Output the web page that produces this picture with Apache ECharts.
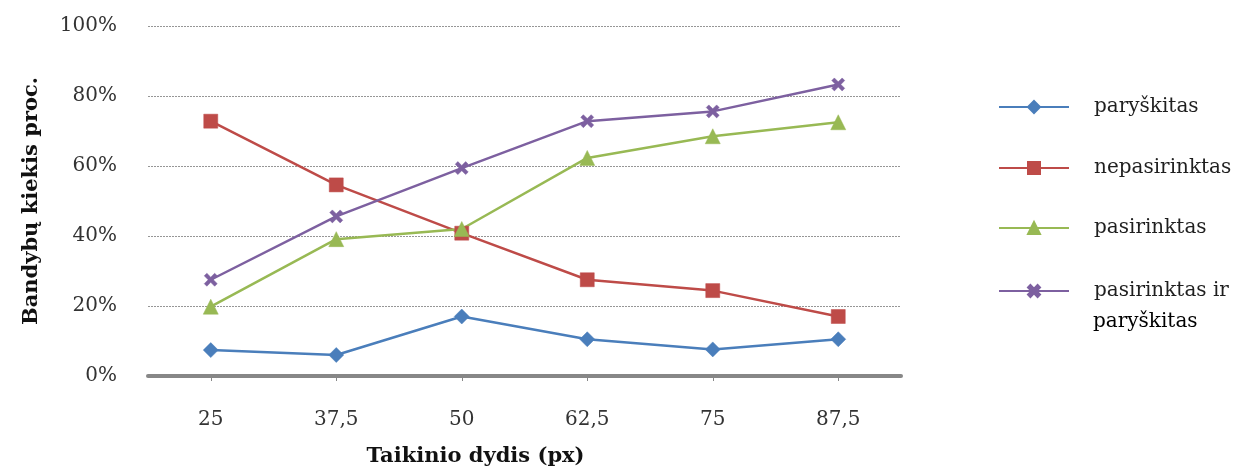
<!DOCTYPE html>
<html>
<head>
<meta charset="utf-8">
<script src="https://cdn.jsdelivr.net/npm/echarts@6/dist/echarts.min.js"></script>
<style>
  html, body { margin: 0; padding: 0; background: #fff; }
  #chart { width: 1252px; height: 472px; }
</style>
</head>
<body>
<div id="chart"></div>
<script>
// Target size categories (px) and share of attempts (%) per outcome
const categories = ['25', '37,5', '50', '62,5', '75', '87,5'];
const yTicks = [0, 20, 40, 60, 80, 100];

const paryskitas = [7.4, 6.0, 17.0, 10.5, 7.6, 10.5];
const nepasirinktas = [72.8, 54.6, 40.8, 27.5, 24.4, 17.0];
const pasirinktas = [19.8, 39.1, 42.0, 62.3, 68.5, 72.5];
const pasirinktasIrParyskitas = [27.5, 45.6, 59.4, 72.8, 75.6, 83.3];

const seriesNames = ['paryškitas', 'nepasirinktas', 'pasirinktas', 'pasirinktas ir paryškitas'];
// the last legend entry wraps onto two lines
const lastLegendLines = ['pasirinktas ir', 'paryškitas'];

const FONT = 'DejaVu Serif';
const X_SYMBOL = 'path://M2,0 L5,3 L8,0 L10,2 L7,5 L10,8 L8,10 L5,7 L2,10 L0,8 L3,5 L0,2 Z';

function lineSeries(name, data, color, symbol, size) {
  return {
    name: name,
    type: 'line',
    data: data,
    symbol: symbol,
    symbolSize: size,
    showAllSymbol: true,
    lineStyle: { color: color, width: 2.5 },
    itemStyle: { color: color, borderColor: color, borderWidth: 0.5 },
    emphasis: { disabled: true },
    animation: false
  };
}

const LEGEND_TEXT = { fontFamily: FONT, fontSize: 20, color: '#1f1f1f' };

function legendFor(name, top, formatter) {
  return Object.assign({
    orient: 'vertical',
    left: 993,
    top: top,
    itemWidth: 70,
    itemHeight: 15,
    selectedMode: false,
    data: [name],
    textStyle: Object.assign({ padding: [0, 0, 0, 20] }, LEGEND_TEXT)
  }, formatter ? { formatter: formatter } : {});
}

const chart = echarts.init(document.getElementById('chart'), null, { renderer: 'canvas' });

chart.setOption({
  backgroundColor: '#ffffff',
  animation: false,
  grid: { left: 148, right: 351, top: 26, bottom: 96, containLabel: false },
  xAxis: {
    type: 'category',
    data: categories,
    boundaryGap: true,
    name: 'Taikinio dydis (px)',
    nameLocation: 'middle',
    nameGap: 70,
    nameTextStyle: {
      fontFamily: FONT, fontSize: 21, fontWeight: 'bold', color: '#111',
      padding: [0, 98, 0, 0], verticalAlign: 'top'
    },
    axisLine: { show: true, lineStyle: { color: '#878787', width: 4 } },
    axisTick: { show: true, alignWithLabel: true, length: 5, lineStyle: { color: '#878787', width: 1 } },
    axisLabel: { fontFamily: FONT, fontSize: 20, color: '#333', margin: 34 },
    splitLine: { show: false }
  },
  yAxis: {
    type: 'value',
    min: yTicks[0],
    max: yTicks[yTicks.length - 1],
    interval: 20,
    name: 'Bandybų kiekis proc.',
    nameLocation: 'middle',
    nameGap: 106,
    nameRotate: 90,
    nameTextStyle: { fontFamily: FONT, fontSize: 21, fontWeight: 'bold', color: '#111' },
    axisLine: { show: false },
    axisTick: { show: false },
    axisLabel: { fontFamily: FONT, fontSize: 20, color: '#333', margin: 31, formatter: '{value}%' },
    splitLine: { show: true, lineStyle: { color: '#969696', width: 1, type: [2, 1] } }
  },
  legend: [
    legendFor(seriesNames[0], 92),
    legendFor(seriesNames[1], 153),
    legendFor(seriesNames[2], 213),
    legendFor(seriesNames[3], 276, function () { return lastLegendLines[0]; })
  ],
  graphic: [{
    type: 'text',
    left: 1093,
    top: 312,
    style: Object.assign({ text: lastLegendLines[1] }, LEGEND_TEXT),
    silent: true
  }],
  series: [
    lineSeries(seriesNames[0], paryskitas, '#4a7ebb', 'diamond', 15),
    lineSeries(seriesNames[1], nepasirinktas, '#be4b48', 'rect', 14),
    lineSeries(seriesNames[2], pasirinktas, '#98b954', 'triangle', 15),
    lineSeries(seriesNames[3], pasirinktasIrParyskitas, '#7d60a0', X_SYMBOL, 13)
  ]
});
</script>
</body>
</html>
